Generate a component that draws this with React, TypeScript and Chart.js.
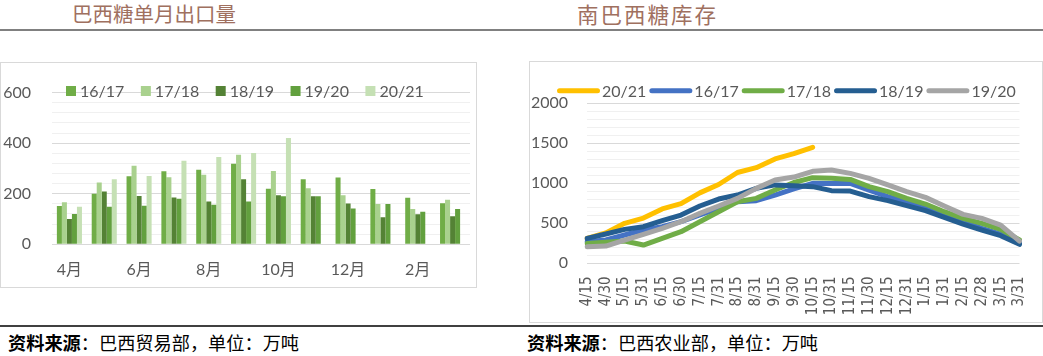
import React, { useEffect, useRef } from "react";
import { Chart, registerables } from "chart.js";
Chart.register(...registerables);

const FONT = "Lato, 'Noto Sans CJK SC', sans-serif";
const NARROW = "'Liberation Sans Narrow', 'DejaVu Sans Condensed', Lato, sans-serif";
const CJK = "'Noto Sans CJK SC', sans-serif";
const TICK_COLOR = "#595959";
const TITLE_COLOR = "#A0705F";

// ---- Chart 1: monthly exports ----
const months = ["4月", "5月", "6月", "7月", "8月", "9月", "10月", "11月", "12月", "1月", "2月", "3月"];
const exportSeasons = ["16/17", "17/18", "18/19", "19/20", "20/21"];
const exp1617 = [151, 200, 269, 289, 295, 319, 220, 257, 264, 219, 184, 162];
const exp1718 = [166, 244, 311, 265, 275, 354, 290, 222, 194, 159, 140, 176];
const exp1819 = [100, 209, 191, 185, 169, 257, 194, 190, 161, 107, 119, 111];
const exp1920 = [120, 149, 152, 180, 156, 169, 190, 190, 142, 159, 129, 140];
const exp2021 = [149, 257, 270, 330, 345, 361, 420, null, null, null, null, null];
const exportColors = ["#70AD47", "#A9D18E", "#548235", "#62A03E", "#C5E0B4"];

// ---- Chart 2: stocks ----
const dates = ["4/15", "4/30", "5/15", "5/31", "6/15", "6/30", "7/15", "7/31", "8/15", "8/31", "9/15", "9/30",
  "10/15", "10/31", "11/15", "11/30", "12/15", "12/31", "1/15", "1/31", "2/15", "2/28", "3/15", "3/31"];
const stockSeasons = ["20/21", "16/17", "17/18", "18/19", "19/20"];
const stock2021 = [310, 380, 500, 565, 680, 745, 880, 985, 1135, 1195, 1305, 1370, 1450,
  null, null, null, null, null, null, null, null, null, null, null];
const stock1617 = [270, 291, 354, 416, 458, 520, 604, 687, 770, 783, 853, 930, 1000, 999, 999, 916, 833, 770, 687, 604, 520, 437, 366, 250];
const stock1718 = [249, 262, 278, 228, 312, 395, 520, 645, 770, 812, 916, 1010, 1070, 1062, 1049, 958, 895, 812, 741, 645, 562, 499, 424, 291];
const stock1819 = [312, 366, 424, 458, 533, 603, 716, 803, 853, 937, 980, 970, 958, 908, 903, 833, 783, 720, 658, 574, 491, 416, 345, 237];
const stock1920 = [208, 216, 291, 362, 437, 520, 624, 716, 812, 937, 1041, 1078, 1150, 1166, 1124, 1062, 979, 895, 824, 716, 612, 562, 478, 278];
const stockColors = ["#FFC000", "#4472C4", "#70AD47", "#255E91", "#A5A5A5"];
const stockOrder = [5, 4, 3, 2, 1];

function makeLegend(kind: "box" | "line", x0: number, y: number, gap: number) {
  return {
    id: "customLegend_" + kind,
    afterDraw(chart: any) {
      const ctx = chart.ctx;
      ctx.save();
      ctx.font = `16px ${FONT}`;
      ctx.textBaseline = "middle";
      ctx.textAlign = "left";
      let x = x0;
      chart.data.datasets.forEach((ds: any) => {
        const color = ds.legendColor;
        if (kind === "box") {
          ctx.fillStyle = color;
          ctx.fillRect(x, y - 5, 10, 10);
          ctx.fillStyle = TICK_COLOR;
          ctx.fillText(ds.label, x + 14, y + 1);
          x += 14 + ctx.measureText(ds.label).width + gap;
        } else {
          ctx.strokeStyle = color;
          ctx.lineWidth = 5;
          ctx.lineCap = "round";
          ctx.beginPath();
          ctx.moveTo(x + 2.5, y);
          ctx.lineTo(x + 40.5, y);
          ctx.stroke();
          ctx.fillStyle = TICK_COLOR;
          ctx.fillText(ds.label, x + 45, y + 1);
          x += 45 + ctx.measureText(ds.label).width + gap;
        }
      });
      ctx.restore();
    },
  };
}

function BarChart() {
  const ref = useRef<HTMLCanvasElement>(null);
  useEffect(() => {
    const series = [exp1617, exp1718, exp1819, exp1920, exp2021];
    const chart = new Chart(ref.current!, {
      type: "bar",
      data: {
        labels: months,
        datasets: series.map((d, i) => ({
          label: exportSeasons[i],
          data: d,
          backgroundColor: exportColors[i],
          legendColor: exportColors[i],
          categoryPercentage: 0.72,
          barPercentage: 1.0,
          borderWidth: 0,
        })) as any,
      },
      options: {
        responsive: false,
        animation: false,
        layout: { padding: { left: 0, right: 7, top: 22, bottom: 0 } },
        plugins: { legend: { display: false }, tooltip: { enabled: false } },
        scales: {
          x: {
            grid: { display: false },
            border: { display: false },
            ticks: {
              autoSkip: false,
              maxRotation: 0,
              padding: 8,
              color: TICK_COLOR,
              font: { size: 16, family: FONT },
              callback: (_v: any, i: number) => (i % 2 === 0 ? months[i] : ""),
            },
            afterFit: (s: any) => { s.height = 226 - 182.3; },
          },
          y: {
            min: 0,
            max: 600,
            border: { display: false },
            grid: {
              drawTicks: false,
              color: (c: any) => (c.tick && c.tick.value % 200 === 0 ? "#D9D9D9" : "#F0F0F0"),
            },
            ticks: {
              stepSize: 40,
              autoSkip: false,
              padding: 21,
              color: TICK_COLOR,
              font: { size: 16, family: FONT },
              callback: (v: any) => (Number(v) % 200 === 0 ? String(v) : ""),
            },
            afterFit: (s: any) => { s.width = 52; },
          },
        },
      } as any,
      plugins: [makeLegend("box", 66, 29, 16.5)],
    });
    return () => chart.destroy();
  }, []);
  return <canvas ref={ref} width={477} height={226} style={{ position: "absolute", left: 0, top: 62, width: 477, height: 226 }} />;
}

function LineChart() {
  const ref = useRef<HTMLCanvasElement>(null);
  useEffect(() => {
    const series = [stock2021, stock1617, stock1718, stock1819, stock1920];
    const chart = new Chart(ref.current!, {
      type: "line",
      data: {
        labels: dates,
        datasets: series.map((d, i) => ({
          label: stockSeasons[i],
          data: d,
          borderColor: stockColors[i],
          legendColor: stockColors[i],
          backgroundColor: stockColors[i],
          borderWidth: 5,
          pointRadius: 0,
          borderCapStyle: "round",
          borderJoinStyle: "round",
          tension: 0,
          fill: false,
          order: stockOrder[i],
        })) as any,
      },
      options: {
        responsive: false,
        animation: false,
        layout: { padding: { left: 0, right: 23.5, top: 42.3, bottom: 0 } },
        plugins: { legend: { display: false }, tooltip: { enabled: false } },
        scales: {
          x: {
            grid: { display: false },
            border: { display: false },
            ticks: {
              autoSkip: false,
              minRotation: 90,
              maxRotation: 90,
              padding: 5,
              color: TICK_COLOR,
              font: { size: 15, family: NARROW },
            },
            afterFit: (s: any) => { s.height = 262 - 202.3; },
          },
          y: {
            min: 0,
            max: 2000,
            border: { display: false },
            grid: {
              drawTicks: false,
              color: (c: any) => (c.tick && c.tick.value % 500 === 0 ? "#D9D9D9" : "#F0F0F0"),
            },
            ticks: {
              stepSize: 100,
              autoSkip: false,
              padding: 19,
              color: TICK_COLOR,
              font: { size: 16, family: FONT },
              callback: (v: any) => (Number(v) % 500 === 0 ? String(v) : ""),
            },
            afterFit: (s: any) => { s.width = 58; },
          },
        },
      } as any,
      plugins: [makeLegend("line", 28, 29.7, 3)],
    });
    return () => chart.destroy();
  }, []);
  return <canvas ref={ref} width={514} height={262} style={{ position: "absolute", left: 529, top: 61, width: 514, height: 262 }} />;
}

export default function App() {
  const titleStyle: React.CSSProperties = {
    position: "absolute", top: 3, fontSize: 20.5, lineHeight: 1, color: TITLE_COLOR,
    whiteSpace: "nowrap", fontFamily: CJK,
  };
  const footStyle: React.CSSProperties = {
    position: "absolute", top: 333, fontSize: 18.2, lineHeight: 1, color: "#000",
    whiteSpace: "nowrap", fontFamily: CJK,
  };
  return (
    <div style={{ position: "absolute", left: 0, top: 0, width: 1043, height: 356, background: "#fff", overflow: "hidden" }}>
      <div style={{ ...titleStyle, left: 72 }}>巴西糖单月出口量</div>
      <div style={{ ...titleStyle, left: 577, fontSize: 21.5, letterSpacing: 2 }}>南巴西糖库存</div>
      <div style={{ position: "absolute", left: 0, top: 29, width: 1043, height: 2, background: "#808080" }} />
      <div style={{ position: "absolute", left: 0, top: 62, width: 477, height: 226, boxSizing: "border-box", border: "1px solid #D9D9D9" }} />
      <div style={{ position: "absolute", left: 529, top: 61, width: 514, height: 262, boxSizing: "border-box", border: "1px solid #D9D9D9" }} />
      <BarChart />
      <LineChart />
      <div style={{ position: "absolute", left: 0, top: 325, width: 1043, height: 2, background: "#404040" }} />
      <div style={{ ...footStyle, left: 8 }}><b>资料来源</b>：巴西贸易部，单位：万吨</div>
      <div style={{ ...footStyle, left: 527 }}><b>资料来源</b>：巴西农业部，单位：万吨</div>
    </div>
  );
}
